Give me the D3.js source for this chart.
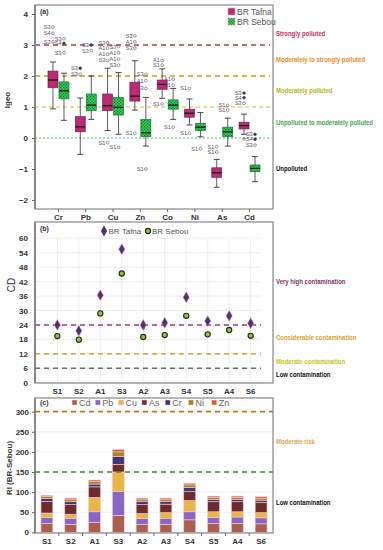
<!DOCTYPE html>
<html><head><meta charset="utf-8">
<script src="https://cdn.jsdelivr.net/npm/d3@7"></script>
<style>body{margin:0;background:#fff} svg{display:block} text{font-family:"Liberation Sans",Arial,sans-serif}</style>
</head><body><svg id="c" width="383" height="550"></svg>
<script>
// ---------- Panel (a) data: Igeo box plots ----------
const metals = ["Cr","Pb","Cu","Zn","Co","Ni","As","Cd"];
// [lower whisker, Q1, median, Q3, upper whisker]
const tafnaBox = [[0.94,1.62,1.87,2.16,2.45],[-0.53,0.2,0.36,0.69,1.29],[0.24,0.88,1.04,1.42,2.25],[0.9,1.19,1.35,1.8,2.49],[1.28,1.57,1.73,1.87,2.23],[0.42,0.67,0.8,0.93,1.26],[-1.59,-1.27,-1.12,-0.96,-0.69],[0.12,0.29,0.4,0.51,0.77]];
const sebouBox = [[0.57,1.26,1.52,1.81,2.09],[0.6,0.88,1.06,1.42,2.0],[0.12,0.74,0.99,1.31,2.11],[-0.26,0.04,0.17,0.6,1.31],[0.6,0.93,1.06,1.23,1.6],[0.04,0.24,0.35,0.47,0.82],[-0.26,0.04,0.2,0.35,0.64],[-1.41,-1.09,-0.98,-0.87,-0.6]];
// [metal, series, value, label, filled]
const outliers = [
 ["Cr","T",3.58,"S3",0],["Cr","T",3.38,"S4",0],["Cr","T",3.1,"S3",0],
 ["Cr","S",3.2,"S3",0],["Cr","S",3.05,"S4",1],["Cr","S",2.75,"S3",0],
 ["Pb","T",2.25,"S3",1],["Pb","T",2.05,"S3",0],
 ["Pb","S",3.0,"S3",1],["Pb","S",2.82,"S3",0],
 ["Cu","T",3.07,"S3",0],["Cu","T",2.9,"A1",0],["Cu","T",2.7,"A1",0],["Cu","T",2.5,"S3",0],["Cu","T",-0.15,"S1",0],
 ["Cu","S",2.95,"S3",0],["Cu","S",2.75,"A1",0],["Cu","S",2.55,"A1",0],["Cu","S",2.35,"S3",0],["Cu","S",-0.3,"S1",0],
 ["Zn","T",3.3,"S3",0],["Zn","T",3.1,"A1",0],["Zn","T",2.9,"S3",0],["Zn","T",0.15,"S1",0],
 ["Zn","S",2.05,"S3",0],["Zn","S",1.85,"A1",0],["Zn","S",1.6,"S3",0],["Zn","S",-1.0,"S1",0],
 ["Co","T",2.5,"A1",0],["Co","T",2.35,"S1",0],["Co","T",1.1,"S1",0],
 ["Co","S",1.9,"A1",0],["Co","S",1.7,"S1",0],["Co","S",0.35,"S1",0],
 ["Ni","T",1.6,"S1",0],["Ni","T",0.15,"S1",0],
 ["Ni","S",-0.35,"S1",0],
 ["As","T",-0.28,"S1",0],["As","T",-0.45,"S1",0],
 ["As","S",1.05,"S1",0],["As","S",0.9,"S1",0],
 ["Cd","T",1.45,"S3",1],["Cd","T",1.3,"S4",1],["Cd","T",1.12,"S3",0],["Cd","T",-0.03,"",0],
 ["Cd","S",0.12,"S3",1],["Cd","S",-0.04,"S4",1],["Cd","S",-0.23,"S3",0]
];
const igeoTicks = [-2,-1,0,1,2,3,4];
const igeoLevels = [3,2,1,0];
const igeoClassText = ["Strongly polluted","Moderately to strongly polluted","Moderately polluted","Unpolluted to moderately polluted","Unpolluted"];
const igeoClassPos = [3.35,2.5,1.5,0.5,-1.0];

// ---------- Panel (b) data: CD ----------
const sites = ["S1","S2","A1","S3","A2","A3","S4","S5","A4","S6"];
const cdTafna = [24.0,21.6,36.4,55.5,24.0,24.9,35.5,25.6,27.8,24.7];
const cdSebou = [19.4,17.9,28.8,45.4,19.0,19.8,27.8,20.1,21.9,19.5];
const cdTicks = [0,6,12,18,24,30,36,42,48,54,60];
const cdLevels = [24,12,6];
const cdClassText = ["Very high contamination","Considerable contamination","Moderate contamination","Low contamination"];
const cdClassPos = [42,18.5,8.5,3.2];

// ---------- Panel (c) data: RI (BR-Sebou) ----------
const riMetals = ["Cd","Pb","Cu","As","Cr","Ni","Zn"];
const riCd = [22,20,25,42,20,20,31,22,22,21];
const riPb = [15,15,26,60,14,15,20,15,16,15];
const riCu = [11,10,36,48,13,14,28,14,13,13];
const riAs = [29,24,26,19,22,21,22,25,25,25];
const riCr = [7,7,7,20,7,7,11,6,6,6];
const riNi = [5,5,6,11,5,4,6,5,5,5];
const riZn = [3,4,4,6,4,4,4,3,3,3.5];
const riTicks = [0,50,100,150,200,250,300];
const riLevels = [300,150];
const riClassText = ["Moderate risk","Low contamination"];
const riClassPos = [225,72];

// ---------- drawing ----------
const svg = d3.select("#c");
const defs = svg.append("defs");
const pat = defs.append("pattern").attr("id","chk").attr("width",3).attr("height",3).attr("patternUnits","userSpaceOnUse");
pat.append("rect").attr("width",3).attr("height",3).attr("fill","#2fd35a");
pat.append("rect").attr("x",0).attr("y",0).attr("width",1.2).attr("height",1.2).attr("fill","#0b6a26");
pat.append("rect").attr("x",1.5).attr("y",1.5).attr("width",1.2).attr("height",1.2).attr("fill","#0b6a26");
const gT = defs.append("linearGradient").attr("id","gt").attr("x1",0).attr("x2",1).attr("y1",0).attr("y2",0);
gT.append("stop").attr("offset","0%").attr("stop-color","#a52c78");
gT.append("stop").attr("offset","50%").attr("stop-color","#c92a6c");
gT.append("stop").attr("offset","100%").attr("stop-color","#a52c78");

const L = 35, R = 273, labX = 276, labMax = 100;
const tickFont = g => { g.selectAll("text").attr("font-size",8).attr("font-weight","bold").attr("fill","#333").attr("font-family","Liberation Sans, Arial, sans-serif"); g.selectAll("line").attr("stroke","#666"); g.select(".domain").remove(); };
function sideLabel(t, y, col){
  const el = svg.append("text").attr("x",labX).attr("y",y).attr("font-size",6.5).attr("font-weight","bold").attr("fill",col).text(t);
  const w = el.node().getComputedTextLength();
  const target = Math.min(labMax, w*0.92);
  el.attr("textLength",target).attr("lengthAdjust","spacingAndGlyphs");
}

// ===== Panel (a) =====
const aTop = 5, aBot = 209;
const yA = d3.scaleLinear().domain([-2.29,4.29]).range([aBot,aTop]);
const xA = d3.scaleBand().domain(metals).range([L,R]).paddingOuter(0.36).paddingInner(0);
const lvlColA = ["#a0483e","#c9a21a","#c9c43a","#5cb85c"];
const lvlDashA = ["5,4","5,4","4,3","2,2"];
igeoLevels.forEach((v,i)=>{
  svg.append("line").attr("x1",L).attr("x2",R-3).attr("y1",yA(v)).attr("y2",yA(v))
    .attr("stroke",lvlColA[i]).attr("stroke-width",i<2?1.3:1).attr("stroke-dasharray",lvlDashA[i]);
});
const boxW = 10, off = 5.5;
function drawBox(stats, series){
  metals.forEach((m,i)=>{
    const s = stats[i];
    const cx = xA(m) + xA.bandwidth()/2 + (series==="T"?-off:off);
    const g = svg.append("g");
    g.append("line").attr("x1",cx).attr("x2",cx).attr("y1",yA(s[0])).attr("y2",yA(s[4])).attr("stroke","#333").attr("stroke-width",0.8);
    [s[0],s[4]].forEach(v=>g.append("line").attr("x1",cx-3).attr("x2",cx+3).attr("y1",yA(v)).attr("y2",yA(v)).attr("stroke","#333").attr("stroke-width",0.9));
    g.append("rect").attr("x",cx-boxW/2).attr("y",yA(s[3])).attr("width",boxW).attr("height",yA(s[1])-yA(s[3]))
      .attr("fill",series==="T"?"url(#gt)":"url(#chk)").attr("stroke",series==="T"?"#6a2050":"#1b6b30").attr("stroke-width",0.6);
    g.append("line").attr("x1",cx-boxW/2).attr("x2",cx+boxW/2).attr("y1",yA(s[2])).attr("y2",yA(s[2])).attr("stroke","#111").attr("stroke-width",1.2);
  });
}
drawBox(tafnaBox,"T");
drawBox(sebouBox,"S");
outliers.forEach(o=>{
  const cx = xA(o[0]) + xA.bandwidth()/2 + (o[1]==="T"?-off:off);
  const cy = yA(o[2]);
  svg.append("circle").attr("cx",cx).attr("cy",cy).attr("r",1.4)
    .attr("fill",o[4]?"#333":"none").attr("stroke","#555").attr("stroke-width",0.6);
  if(o[3]) svg.append("text").attr("x",cx-2.3).attr("y",cy+2).attr("text-anchor","end")
    .attr("font-size",5.6).attr("fill","#6b4a78").text(o[3]);
});
svg.append("rect").attr("x",L).attr("y",aTop).attr("width",R-L).attr("height",aBot-aTop).attr("fill","none").attr("stroke","#888").attr("stroke-width",1.2);
svg.append("line").attr("x1",L).attr("x2",L).attr("y1",aTop).attr("y2",aBot).attr("stroke","#777").attr("stroke-width",1.5);
svg.append("g").attr("transform",`translate(${L},0)`).call(d3.axisLeft(yA).tickValues(igeoTicks).tickSize(3).tickPadding(4).tickFormat(d3.format("d"))).call(tickFont);
svg.append("g").attr("transform",`translate(0,${aBot})`).call(d3.axisBottom(xA).tickSize(3).tickPadding(2)).call(tickFont);
svg.append("text").attr("x",40).attr("y",14).attr("font-size",7).attr("font-weight","bold").attr("fill","#333").text("(a)");
svg.append("text").attr("transform","translate(10,100) rotate(-90)").attr("text-anchor","middle").attr("font-size",8).attr("font-weight","bold").attr("fill","#333").text("Igeo");
// legend (a)
[["BR Tafna","url(#gt)",12],["BR Sebou","url(#chk)",22]].forEach(d=>{
  svg.append("rect").attr("x",228).attr("y",d[2]-4).attr("width",7).attr("height",7).attr("fill",d[1]).attr("stroke","#f3a0c8").attr("stroke-width",0.6);
  svg.append("text").attr("x",237).attr("y",d[2]+3).attr("font-size",8.5).attr("fill","#555").text(d[0]);
});
const colClsA = ["#b8336a","#e3901f","#b9b517","#45a552","#111"];
igeoClassText.forEach((t,i)=>sideLabel(t, yA(igeoClassPos[i])+2, colClsA[i]));

// ===== Panel (b) =====
const bTop = 222, bBot = 383;
const yB = d3.scaleLinear().domain([0,66.8]).range([382.7,bTop]);
const xB = d3.scaleBand().domain(sites).range([L,R]).paddingOuter(0.54).paddingInner(0);
const bRight = 261;
cdTicks.forEach(v=>svg.append("line").attr("x1",L).attr("x2",bRight).attr("y1",yB(v)).attr("y2",yB(v)).attr("stroke","#e6e6e6").attr("stroke-width",0.7));
sites.forEach(s=>{const x=xB(s)+xB.bandwidth()/2; svg.append("line").attr("x1",x).attr("x2",x).attr("y1",yB(0)).attr("y2",yB(60)).attr("stroke","#e6e6e6").attr("stroke-width",0.7);});
const lvlColB = ["#a8387a","#c9960f","#5a7a5a"];
cdLevels.forEach((v,i)=>svg.append("line").attr("x1",L).attr("x2",bRight).attr("y1",yB(v)).attr("y2",yB(v)).attr("stroke",lvlColB[i]).attr("stroke-width",1.4).attr("stroke-dasharray","5,4"));
const dia = d3.symbol().type(d3.symbolDiamond).size(34);
sites.forEach((s,i)=>{
  const x = xB(s)+xB.bandwidth()/2;
  svg.append("circle").attr("cx",x).attr("cy",yB(cdSebou[i])).attr("r",2.6).attr("fill","#8cc63f").attr("stroke","#1f2a10").attr("stroke-width",1.1);
  svg.append("path").attr("d",dia).attr("transform",`translate(${x},${yB(cdTafna[i])})`).attr("fill","#5a2d6e").attr("stroke","#c9a0d8").attr("stroke-width",0.5);
});
svg.append("rect").attr("x",L).attr("y",bTop).attr("width",R-L).attr("height",bBot-bTop).attr("fill","none").attr("stroke","#888").attr("stroke-width",1.2);
svg.append("line").attr("x1",L).attr("x2",L).attr("y1",bTop).attr("y2",bBot).attr("stroke","#777").attr("stroke-width",1.5);
svg.append("g").attr("transform",`translate(${L},0)`).call(d3.axisLeft(yB).tickValues(cdTicks).tickSize(0).tickPadding(7)).call(tickFont);
svg.append("g").attr("transform",`translate(0,${bBot})`).call(d3.axisBottom(xB).tickSize(0).tickPadding(5)).call(tickFont);
svg.append("text").attr("x",40).attr("y",231).attr("font-size",7).attr("font-weight","bold").attr("fill","#333").text("(b)");
svg.append("text").attr("transform","translate(15,285) rotate(-90)").attr("text-anchor","middle").attr("font-size",10).attr("fill","#333").text("CD");
svg.append("path").attr("d",dia).attr("transform","translate(104,231)").attr("fill","#5a2d6e");
svg.append("text").attr("x",108.5).attr("y",234).attr("font-size",8).attr("fill","#555").text("BR Tafna");
svg.append("circle").attr("cx",148).attr("cy",231).attr("r",2.6).attr("fill","#8cc63f").attr("stroke","#1f2a10").attr("stroke-width",1.1);
svg.append("text").attr("x",152).attr("y",234).attr("font-size",8).attr("fill","#555").text("BR Sebou");
const colClsB = ["#7d3466","#d8a03a","#c6c21c","#111"];
cdClassText.forEach((t,i)=>sideLabel(t, yB(cdClassPos[i])+2, colClsB[i]));

// ===== Panel (c) =====
const cTop = 398, cBot = 533;
const yC = d3.scaleLinear().domain([0,334]).range([532.3,cTop]);
const xC = d3.scaleBand().domain(sites).range([L,R]).paddingInner(0.5).paddingOuter(0.25);
riTicks.forEach(v=>svg.append("line").attr("x1",L).attr("x2",R).attr("y1",yC(v)).attr("y2",yC(v)).attr("stroke","#e6e6e6").attr("stroke-width",0.7));
const riRows = sites.map((s,i)=>({site:s,Cd:riCd[i],Pb:riPb[i],Cu:riCu[i],As:riAs[i],Cr:riCr[i],Ni:riNi[i],Zn:riZn[i]}));
const stack = d3.stack().keys(riMetals)(riRows);
const riCol = {Cd:"#a8604f",Pb:"#8a66c4",Cu:"#e9b545",As:"#6e2b2b",Cr:"#3d3772",Ni:"#a8841c",Zn:"#d9602a"};
stack.forEach(layer=>{
  svg.append("g").selectAll("rect").data(layer).join("rect")
    .attr("x",d=>xC(d.data.site)).attr("width",xC.bandwidth())
    .attr("y",d=>yC(d[1])).attr("height",d=>yC(d[0])-yC(d[1]))
    .attr("fill",riCol[layer.key]).attr("stroke","#f6c9de").attr("stroke-width",0.6);
});
const lvlColC = ["#c07a10","#3f8a3a"];
riLevels.forEach((v,i)=>svg.append("line").attr("x1",L).attr("x2",R).attr("y1",yC(v)).attr("y2",yC(v)).attr("stroke",lvlColC[i]).attr("stroke-width",1.6).attr("stroke-dasharray","5,4"));
svg.append("rect").attr("x",L).attr("y",cTop).attr("width",R-L).attr("height",cBot-cTop).attr("fill","none").attr("stroke","#888").attr("stroke-width",1.2);
svg.append("line").attr("x1",L).attr("x2",L).attr("y1",cTop).attr("y2",cBot).attr("stroke","#777").attr("stroke-width",1.5);
svg.append("g").attr("transform",`translate(${L},0)`).call(d3.axisLeft(yC).tickValues(riTicks).tickSize(3).tickPadding(3)).call(tickFont);
svg.append("g").attr("transform",`translate(0,${cBot})`).call(d3.axisBottom(xC).tickSize(0).tickPadding(5)).call(tickFont);
sites.slice(1).forEach(s=>{const x=xC(s)-(xC.step()-xC.bandwidth())/2; svg.append("line").attr("x1",x).attr("x2",x).attr("y1",cBot).attr("y2",cBot+3).attr("stroke","#666");});
svg.append("text").attr("x",40).attr("y",405).attr("font-size",7).attr("font-weight","bold").attr("fill","#333").text("(c)");
svg.append("text").attr("transform","translate(12,468) rotate(-90)").attr("text-anchor","middle").attr("font-size",8).attr("font-weight","bold").attr("fill","#333").text("RI (BR-Sebou)");
riMetals.forEach((m,i)=>{
  const x = 72 + i*23.3;
  svg.append("rect").attr("x",x).attr("y",400).attr("width",5).attr("height",5).attr("fill",riCol[m]).attr("stroke","#f6c9de").attr("stroke-width",0.5);
  svg.append("text").attr("x",x+7).attr("y",405.5).attr("font-size",9).attr("fill","#666").text(m);
});
const colClsC = ["#e0a64e","#111"];
riClassText.forEach((t,i)=>sideLabel(t, yC(riClassPos[i])+2, colClsC[i]));
</script></body></html>
